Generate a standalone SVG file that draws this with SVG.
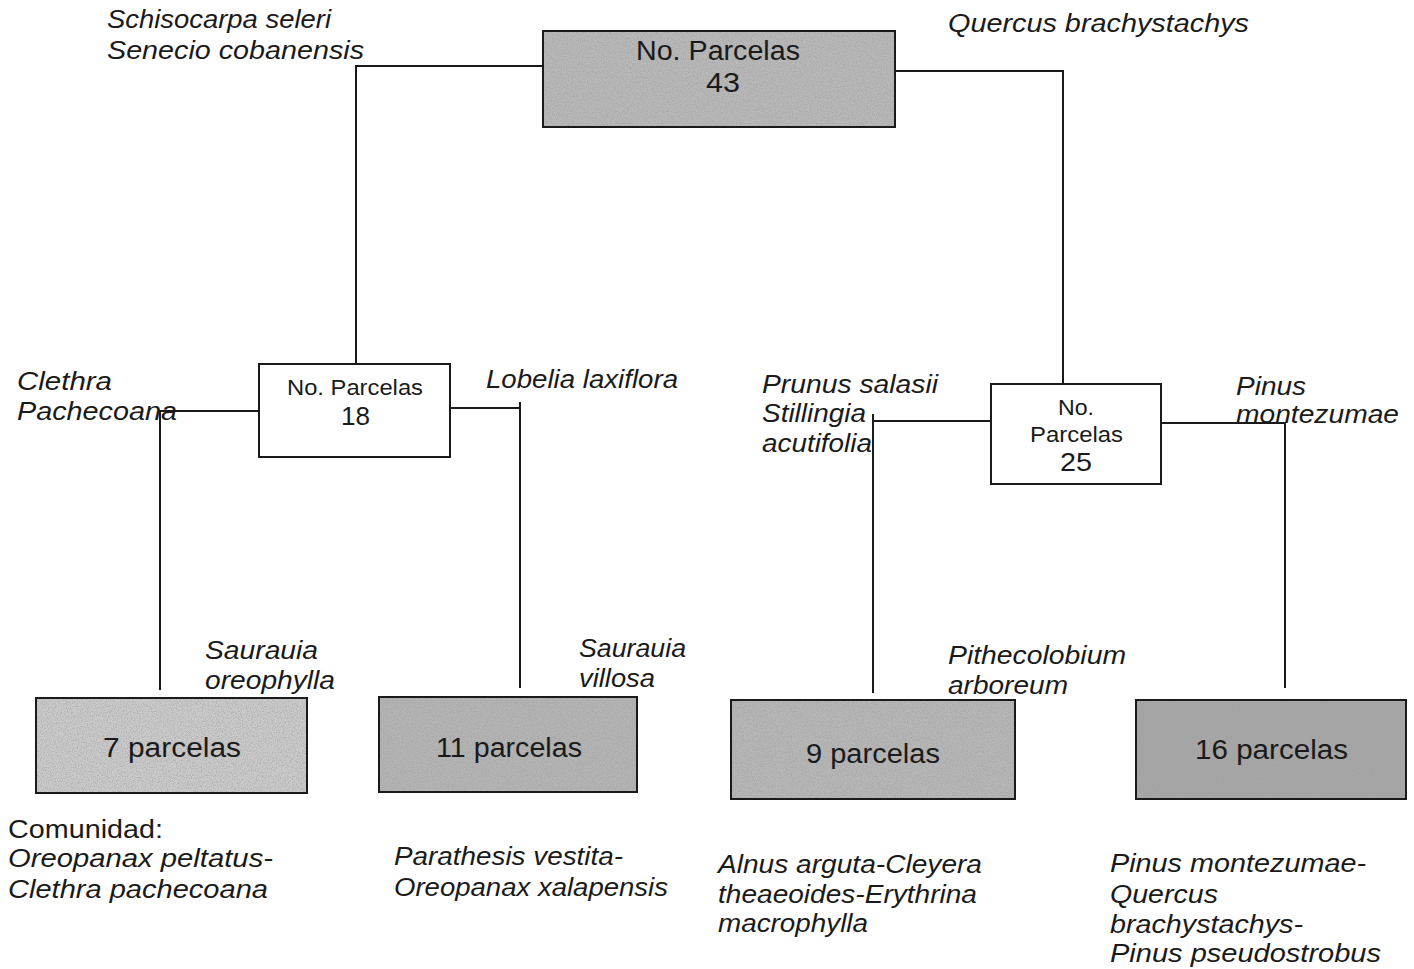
<svg xmlns="http://www.w3.org/2000/svg" width="1414" height="969" viewBox="0 0 1414 969">
<style>
.box{stroke:#1a1a1a;stroke-width:2}
.w{fill:#ffffff}
.bt{font-family:"Liberation Sans",Arial,sans-serif;fill:#1a1a1a}
.sp{font-family:"Liberation Sans",Arial,sans-serif;font-style:italic;font-size:25px;fill:#1a1a1a}
.cm{font-family:"Liberation Sans",Arial,sans-serif;font-size:25px;fill:#1a1a1a}
.ln{stroke:#1a1a1a;stroke-width:2;fill:none}
.tx{filter:url(#grain);opacity:0.5}
</style>
<defs>
<filter id="grain" x="0" y="0" width="100%" height="100%">
<feTurbulence type="fractalNoise" baseFrequency="0.8" numOctaves="2" seed="3"/>
<feColorMatrix type="matrix" values="0 0 0 0 0.35  0 0 0 0 0.35  0 0 0 0 0.35  0 0 0 3.5 -1.5"/>
</filter>
</defs>
<rect width="1414" height="969" fill="#ffffff"/>
<g id="connectors">
<polyline class="ln" points="543,66 356,66 356,364"/>
<polyline class="ln" points="895,71 1063,71 1063,384"/>
<polyline class="ln" points="259,411 160,411 160,690"/>
<polyline class="ln" points="450,408 520,408 520,688"/>
<line class="ln" x1="520" y1="402" x2="520" y2="408"/>
<polyline class="ln" points="991,421 873,421 873,693"/>
<line class="ln" x1="873" y1="414" x2="873" y2="421"/>
<polyline class="ln" points="1161,423 1285,423 1285,688"/>
</g>
<g id="root">
<rect class="box" x="543" y="31" width="352" height="96" fill="#b8b8b8"/>
<rect class="tx" x="544" y="32" width="350" height="94"/>
<text class="bt" x="636" y="60" font-size="27" textLength="164" lengthAdjust="spacingAndGlyphs">No. Parcelas</text>
<text class="bt" x="706" y="92" font-size="27" textLength="34" lengthAdjust="spacingAndGlyphs">43</text>
</g>
<g id="n18">
<rect class="box w" x="259" y="364" width="191" height="93"/>
<text class="bt" x="287" y="395" font-size="22" textLength="136" lengthAdjust="spacingAndGlyphs">No. Parcelas</text>
<text class="bt" x="341" y="425" font-size="26" textLength="29" lengthAdjust="spacingAndGlyphs">18</text>
</g>
<g id="n25">
<rect class="box w" x="991" y="384" width="170" height="100"/>
<text class="bt" x="1058" y="415" font-size="22" textLength="36" lengthAdjust="spacingAndGlyphs">No.</text>
<text class="bt" x="1030" y="442" font-size="22" textLength="93" lengthAdjust="spacingAndGlyphs">Parcelas</text>
<text class="bt" x="1060" y="471" font-size="26" textLength="32" lengthAdjust="spacingAndGlyphs">25</text>
</g>
<g id="n7">
<rect class="box" x="36" y="698" width="271" height="95" fill="#cacaca"/>
<rect class="tx" x="37" y="699" width="269" height="93"/>
<text class="bt" x="103" y="757" font-size="27" textLength="138" lengthAdjust="spacingAndGlyphs">7 parcelas</text>
</g>
<g id="n11">
<rect class="box" x="379" y="697" width="258" height="95" fill="#b4b4b4"/>
<rect class="tx" x="380" y="698" width="256" height="93"/>
<text class="bt" x="436" y="757" font-size="27" textLength="146" lengthAdjust="spacingAndGlyphs">11 parcelas</text>
</g>
<g id="n9">
<rect class="box" x="731" y="700" width="284" height="99" fill="#b6b6b6"/>
<rect class="tx" x="732" y="701" width="282" height="97"/>
<text class="bt" x="806" y="763" font-size="27" textLength="134" lengthAdjust="spacingAndGlyphs">9 parcelas</text>
</g>
<g id="n16">
<rect class="box" x="1136" y="700" width="270" height="99" fill="#a6a6a6"/>
<rect class="tx" x="1137" y="701" width="268" height="97"/>
<text class="bt" x="1195" y="759" font-size="27" textLength="153" lengthAdjust="spacingAndGlyphs">16 parcelas</text>
</g>
<g id="labels">
<text class="sp" x="107" y="28" textLength="224" lengthAdjust="spacingAndGlyphs">Schisocarpa seleri</text>
<text class="sp" x="107" y="59" textLength="257" lengthAdjust="spacingAndGlyphs">Senecio cobanensis</text>
<text class="sp" x="948" y="32" textLength="301" lengthAdjust="spacingAndGlyphs">Quercus brachystachys</text>
<text class="sp" x="17" y="390" textLength="95" lengthAdjust="spacingAndGlyphs">Clethra</text>
<text class="sp" x="17" y="420" textLength="160" lengthAdjust="spacingAndGlyphs">Pachecoana</text>
<text class="sp" x="486" y="388" textLength="192" lengthAdjust="spacingAndGlyphs">Lobelia laxiflora</text>
<text class="sp" x="762" y="393" textLength="176" lengthAdjust="spacingAndGlyphs">Prunus salasii</text>
<text class="sp" x="762" y="422" textLength="104" lengthAdjust="spacingAndGlyphs">Stillingia</text>
<text class="sp" x="762" y="452" textLength="110" lengthAdjust="spacingAndGlyphs">acutifolia</text>
<text class="sp" x="1236" y="395" textLength="70" lengthAdjust="spacingAndGlyphs">Pinus</text>
<text class="sp" x="1236" y="423" textLength="163" lengthAdjust="spacingAndGlyphs">montezumae</text>
<text class="sp" x="205" y="659" textLength="113" lengthAdjust="spacingAndGlyphs">Saurauia</text>
<text class="sp" x="205" y="689" textLength="130" lengthAdjust="spacingAndGlyphs">oreophylla</text>
<text class="sp" x="579" y="657" textLength="107" lengthAdjust="spacingAndGlyphs">Saurauia</text>
<text class="sp" x="579" y="687" textLength="76" lengthAdjust="spacingAndGlyphs">villosa</text>
<text class="sp" x="948" y="664" textLength="178" lengthAdjust="spacingAndGlyphs">Pithecolobium</text>
<text class="sp" x="948" y="694" textLength="120" lengthAdjust="spacingAndGlyphs">arboreum</text>
<text class="cm" x="8" y="838" textLength="155" lengthAdjust="spacingAndGlyphs">Comunidad:</text>
<text class="sp" x="8" y="867" textLength="265" lengthAdjust="spacingAndGlyphs">Oreopanax peltatus-</text>
<text class="sp" x="8" y="898" textLength="260" lengthAdjust="spacingAndGlyphs">Clethra pachecoana</text>
<text class="sp" x="394" y="865" textLength="229" lengthAdjust="spacingAndGlyphs">Parathesis vestita-</text>
<text class="sp" x="394" y="896" textLength="274" lengthAdjust="spacingAndGlyphs">Oreopanax xalapensis</text>
<text class="sp" x="718" y="873" textLength="264" lengthAdjust="spacingAndGlyphs">Alnus arguta-Cleyera</text>
<text class="sp" x="718" y="903" textLength="259" lengthAdjust="spacingAndGlyphs">theaeoides-Erythrina</text>
<text class="sp" x="718" y="932" textLength="150" lengthAdjust="spacingAndGlyphs">macrophylla</text>
<text class="sp" x="1110" y="872" textLength="256" lengthAdjust="spacingAndGlyphs">Pinus montezumae-</text>
<text class="sp" x="1110" y="903" textLength="108" lengthAdjust="spacingAndGlyphs">Quercus</text>
<text class="sp" x="1110" y="933" textLength="193" lengthAdjust="spacingAndGlyphs">brachystachys-</text>
<text class="sp" x="1110" y="962" textLength="271" lengthAdjust="spacingAndGlyphs">Pinus pseudostrobus</text>
</g>
</svg>
